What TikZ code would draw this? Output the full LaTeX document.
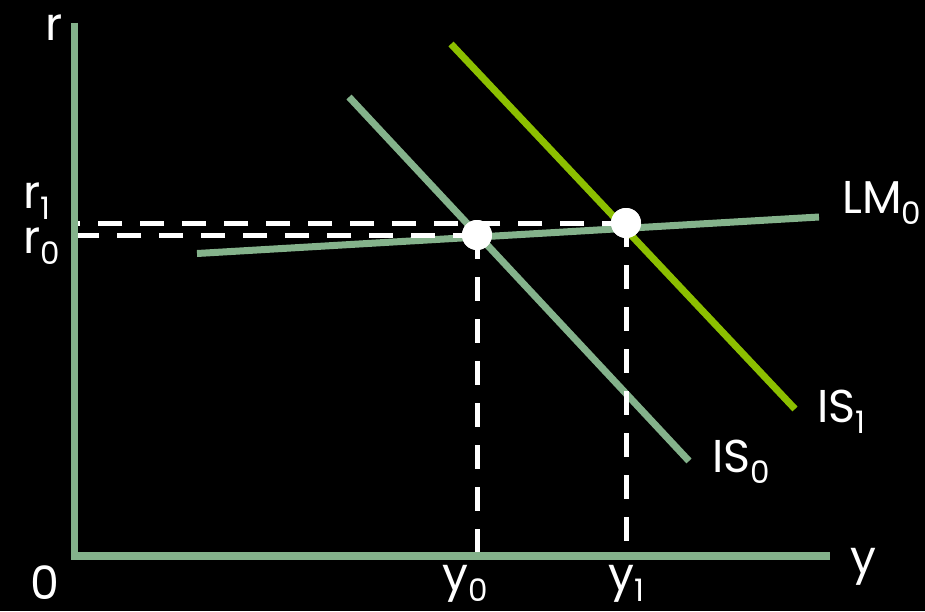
\documentclass[tikz,border=0pt]{standalone}
\usepackage{fontspec}
\setmainfont{Poppins}
\definecolor{sage}{HTML}{84B28B}
\definecolor{lime}{HTML}{8CBF00}
\newcommand{\lowsub}[1]{\raisebox{-11pt}{\fontsize{31}{31}\selectfont #1}}
\begin{document}
\begin{tikzpicture}[x=1pt,y=-1pt,
  lbl/.style={text=white,font=\fontsize{46}{46}\selectfont,inner sep=0pt,anchor=base west},
  curve/.style={line width=7pt},
  guide/.style={white,line width=5pt,dash pattern=on 24pt off 18pt},
  dot/.style={circle,fill=white,minimum size=30pt,inner sep=0pt},
  axis/.style={sage,line width=7.5pt,line join=miter}]
\fill[black] (0,0) rectangle (925,611);
\useasboundingbox (0,0) rectangle (925,611);
% axes corner and ends
\coordinate (o) at (74.5,556);
\coordinate (ytop) at (74.5,22.7);
\coordinate (xend) at (830,556);
% curves
\coordinate (is0a) at (349,97);
\coordinate (is0b) at (689,461);
\coordinate (is1a) at (451,44);
\coordinate (is1b) at (795,409);
\coordinate (lma) at (197,253.5);
\coordinate (lmb) at (819,217);
\draw[curve,sage] (lma) -- (lmb);
\draw[curve,sage] (is0a) -- (is0b);
\draw[curve,lime] (is1a) -- (is1b);
% equilibrium points
\node[dot] (e0) at (477,235) {};
\node[dot] (e1) at (626,223) {};
% guides
\draw[guide] (e1.center) -- (e1.center -| o);
\draw[guide] (e0.center) -- (e0.center -| o);
\draw[guide] (e0.center) -- (e0.center |- o);
\draw[guide] (e1.center) -- (e1.center |- o);
% axes
\draw[axis] (ytop) -- (o) -- (xend);
% redraw dots on top
\node[dot] at (e0.center) {};
\node[dot] at (e1.center) {};
% labels
\node[lbl] (lr) at (45,40) {r};
\node[lbl] (lo) at (30,599) {0};
\node[lbl] (ly) at (850,573) {y};
\node[lbl] (lr1) at (23,208) {r\lowsub{1}};
\node[lbl] (lr0) at (23,253) {r\lowsub{0}};
\node[lbl] (ly0) at (442,590) {y\lowsub{0}};
\node[lbl] (ly1) at (608,590) {y\lowsub{1}};
\node[lbl] (lis0) at (712,472) {IS\lowsub{0}};
\node[lbl] (lis1) at (817,422) {IS\lowsub{1}};
\node[lbl] (llm) at (842,213) {LM\lowsub{0}};
\end{tikzpicture}
\end{document}
